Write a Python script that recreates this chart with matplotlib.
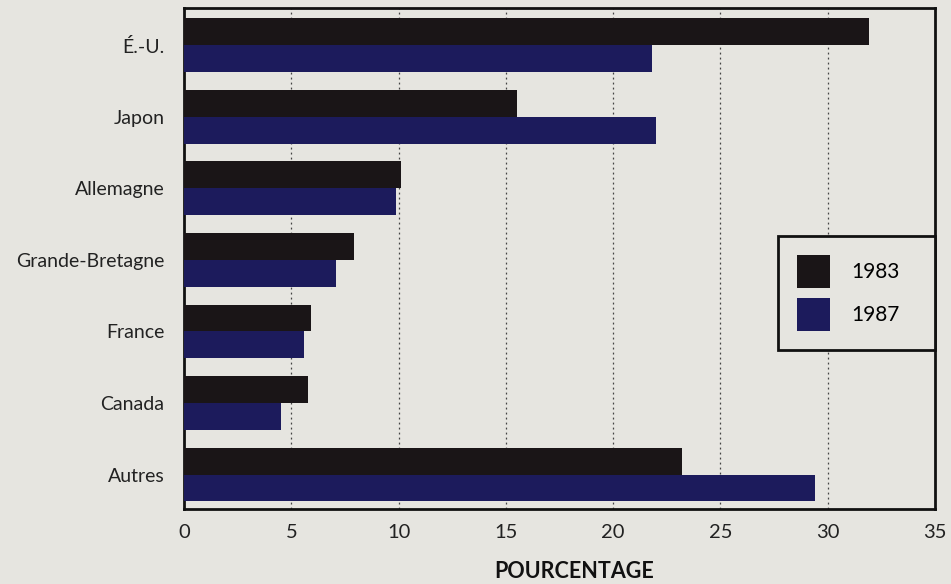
import numpy as np
import matplotlib
matplotlib.use("Agg")
import matplotlib.pyplot as plt

pays = ["É.-U.", "Japon", "Allemagne", "Grande-Bretagne", "France", "Canada", "Autres"]
v1983 = [31.9, 15.5, 10.1, 7.9, 5.9, 5.8, 23.2]
v1987 = [21.8, 22.0, 9.9, 7.1, 5.6, 4.5, 29.4]
xticks = [0, 5, 10, 15, 20, 25, 30, 35]

fond = "#e6e5e0"
noir = "#1a1517"
bleu = "#1c1b5c"

plt.rcParams["font.family"] = ["Lato", "DejaVu Sans"]

fig = plt.figure(figsize=(9.51, 5.84), dpi=100, facecolor=fond)
ax = fig.add_axes([0.1935, 0.1284, 0.7897, 0.858])
ax.set_facecolor(fond)

y = np.arange(len(pays))
h = 0.375
ax.barh(y - h / 2, v1983, height=h, color=noir, label="1983", zorder=3)
ax.barh(y + h / 2, v1987, height=h, color=bleu, label="1987", zorder=3)

ax.set_xlim(0, 35)
ax.set_ylim(6.48, -0.52)
ax.set_yticks(y)
ax.set_yticklabels(pays, fontsize=14, color="#222222")
ax.set_xticks(xticks)
ax.set_xticklabels([str(t) for t in xticks], fontsize=14.5, color="#222222")
ax.tick_params(length=0)
ax.tick_params(axis="x", pad=11)
ax.tick_params(axis="y", pad=14)

for t in xticks[1:-1]:
    ax.axvline(t, color="#444444", lw=0.9, ls=(0, (1.5, 2.5)), zorder=1)

for s in ax.spines.values():
    s.set_linewidth(2)
    s.set_color("#111111")

ax.set_xlabel("POURCENTAGE", fontsize=15.5, fontweight="bold", color="#111111")
ax.xaxis.set_label_coords(0.52, -0.104)

leg = ax.legend(loc="upper right", bbox_to_anchor=(0.791, 0.313, 0.209, 0.232),
                mode="expand", fontsize=15,
                frameon=True, fancybox=False, facecolor=fond, framealpha=1,
                edgecolor="#111111", handlelength=1.6, handleheight=2.1,
                handletextpad=1.0, labelspacing=0.45, borderpad=0.9,
                borderaxespad=0)
leg.get_frame().set_linewidth(2)
leg.set_zorder(5)

fig.savefig("out.png", dpi=100, facecolor=fond)
